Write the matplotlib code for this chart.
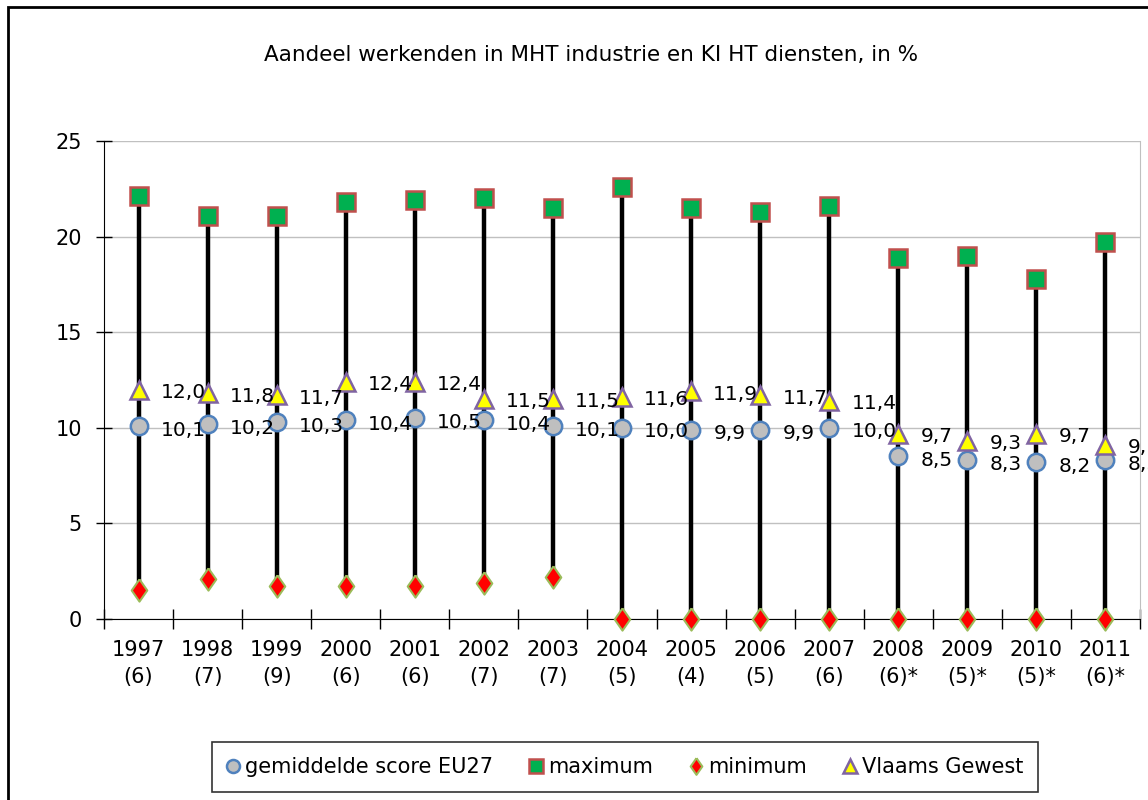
import matplotlib
matplotlib.use("Agg")
import matplotlib.pyplot as plt
from matplotlib.patches import Rectangle

years = ["1997", "1998", "1999", "2000", "2001", "2002", "2003", "2004",
         "2005", "2006", "2007", "2008", "2009", "2010", "2011"]
counts = ["(6)", "(7)", "(9)", "(6)", "(6)", "(7)", "(7)", "(5)",
          "(4)", "(5)", "(6)", "(6)*", "(5)*", "(5)*", "(6)*"]
eu27 = [10.1, 10.2, 10.3, 10.4, 10.5, 10.4, 10.1, 10.0, 9.9, 9.9, 10.0, 8.5, 8.3, 8.2, 8.3]
maximum = [22.1, 21.1, 21.1, 21.8, 21.9, 22.0, 21.5, 22.6, 21.5, 21.3, 21.6, 18.9, 19.0, 17.8, 19.7]
minimum = [1.5, 2.1, 1.7, 1.7, 1.7, 1.9, 2.2, 0.0, 0.0, 0.0, 0.0, 0.0, 0.0, 0.0, 0.0]
vlaams = [12.0, 11.8, 11.7, 12.4, 12.4, 11.5, 11.5, 11.6, 11.9, 11.7, 11.4, 9.7, 9.3, 9.7, 9.1]

title = "Aandeel werkenden in MHT industrie en KI HT diensten, in %"

plt.rcParams['font.family'] = ['DejaVu Sans']
fs = 15
lfs = 14.5

fig = plt.figure(figsize=(11.48, 8.0), dpi=100)
W, H = 1148, 800
ax = fig.add_axes([104 / W, 1 - 619 / H, (1140 - 104) / W, (619 - 141) / H])

x = list(range(len(years)))

diamond = [(0, 1), (0.7, 0), (0, -1), (-0.7, 0), (0, 1)]

# high-low lines
ax.vlines(x, minimum, maximum, color="black", lw=3.2, zorder=2)

ax.plot(x, eu27, ls="none", marker="o", ms=12.5, mfc="#BFBFBF", mec="#4F81BD", mew=1.8,
        zorder=4, label="gemiddelde score EU27")
ax.plot(x, maximum, ls="none", marker="s", ms=12.5, mfc="#00B050", mec="#C0504D", mew=1.8,
        zorder=4, label="maximum")
ax.plot(x, minimum, ls="none", marker=diamond, ms=16, mfc="#FF0000", mec="#9BBB59", mew=1.5,
        zorder=5, label="minimum", clip_on=False)
ax.plot(x, vlaams, ls="none", marker="^", ms=12.5, mfc="#FFFF00", mec="#8064A2", mew=1.8,
        zorder=4, label="Vlaams Gewest")

for xi, v in zip(x, eu27):
    ax.annotate(f"{v:.1f}".replace(".", ","), (xi, v), xytext=(16, -3),
                textcoords="offset points", ha="left", va="center", fontsize=lfs, zorder=6,
                annotation_clip=False)
for xi, v in zip(x, vlaams):
    ax.annotate(f"{v:.1f}".replace(".", ","), (xi, v), xytext=(16, -2),
                textcoords="offset points", ha="left", va="center", fontsize=lfs, zorder=6,
                annotation_clip=False)

ax.set_xlim(-0.5, len(years) - 0.5)
ax.set_ylim(0, 25)
ax.set_yticks([0, 5, 10, 15, 20, 25])
ax.yaxis.grid(True, color="#C0C0C0", lw=1)
ax.set_axisbelow(True)
ax.tick_params(axis="y", direction="inout", length=12, width=1, labelsize=fs, pad=10)
ax.set_xticks(x)
ax.set_xticklabels([f"{y}\n{c}" for y, c in zip(years, counts)], fontsize=fs, linespacing=1.45)
ax.tick_params(axis="x", length=0, pad=15)
ax.set_xticks([i + 0.5 for i in range(-1, len(years))], minor=True)
ax.tick_params(axis="x", which="minor", direction="inout", length=14, width=1)
ax.spines["top"].set_visible(False)
ax.spines["right"].set_color("#C0C0C0")
ax.spines["left"].set_color("black")
ax.spines["bottom"].set_color("black")

fig.text(591 / W, 1 - 55 / H, title, ha="center", va="center", fontsize=15.5)

# chart border
fig.patches.append(Rectangle((8 / W, -0.01), 1.1, 1 - 7 / H + 0.01, transform=fig.transFigure,
                             fill=False, ec="black", lw=2))

leg = fig.legend(loc="center", bbox_to_anchor=(625 / W, 1 - 767 / H), ncol=4, frameon=True,
                 fontsize=fs, handlelength=0.6, handletextpad=0.25, columnspacing=1.8,
                 markerscale=0.75, fancybox=False, edgecolor="black", borderpad=0.7)
leg.get_frame().set_linewidth(1.2)

fig.savefig("out.png", dpi=100)
